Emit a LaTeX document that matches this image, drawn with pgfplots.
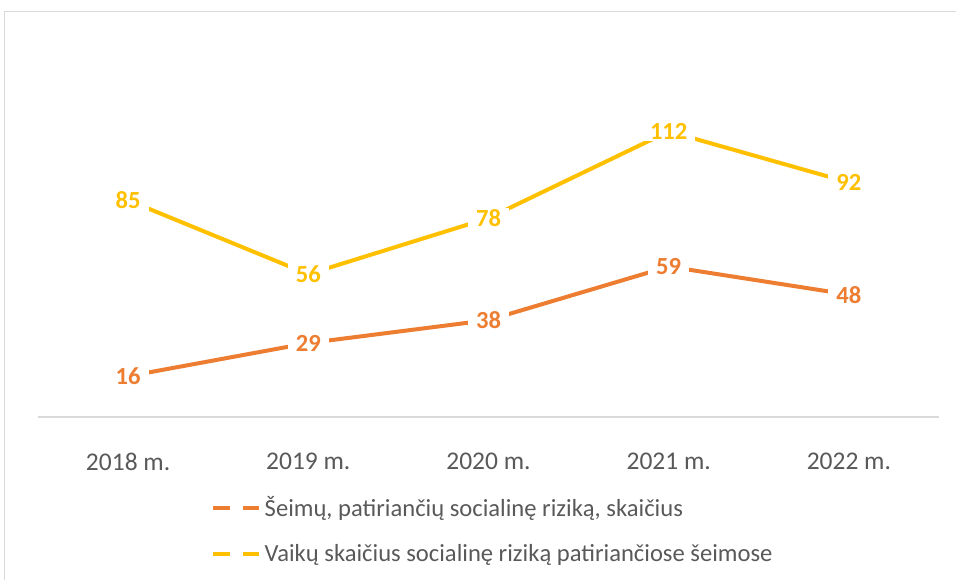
\documentclass[border=0pt]{standalone}
\usepackage{pgfplots}
\pgfplotsset{compat=1.18}
\usepackage{fontspec}
\setmainfont{Carlito}
\definecolor{serA}{HTML}{ED7D31}
\definecolor{serB}{HTML}{FFC000}
\definecolor{axgray}{HTML}{D9D9D9}
\definecolor{txtgray}{HTML}{595959}

\begin{document}
\begin{tikzpicture}
\useasboundingbox (0,0) rectangle (19.12cm,11.6cm);
% chart frame (only left and top edges are visible)
\draw[axgray, line width=0.03cm] (0.09cm,0cm) -- (0.09cm,11.37cm) -- (19.12cm,11.37cm);
\begin{axis}[
  at={(0.76cm,3.26cm)}, anchor=south west,
  scale only axis, width=18.02cm, height=6.12cm,
  xmin=-0.5, xmax=4.5, ymin=0, ymax=120,
  clip=false,
  axis x line*=bottom, axis y line=none,
  x axis line style={-, axgray, line width=0.03cm},
  xtick={0,1,2,3,4},
  xticklabels={2018 m., 2019 m., 2020 m., 2021 m., 2022 m.},
  xtick style={draw=none},
  xticklabel style={font=\fontsize{14.5}{17}\selectfont, text=txtgray, yshift=-0.6cm},
  /pgf/number format/assume math mode=true,
  nodes near coords,
  every node near coord/.append style={anchor=center, fill=white,
    inner xsep=0.16cm, inner ysep=0.04cm, font=\fontsize{14}{16}\selectfont\bfseries},
  legend style={at={(0.186,-0.235)}, anchor=north west, draw=none, fill=none,
    font=\fontsize{14}{17}\selectfont, text=txtgray, row sep=0.36cm,
    /tikz/every even column/.append style={column sep=0.05cm}},
  legend cell align=left,
  legend image code/.code={\draw[#1, line cap=butt, dash pattern=on 0.34cm off 0.26cm] (0cm,0cm) -- (0.92cm,0cm);},
]
\addplot[serA, line width=0.08cm, line join=round, line cap=round,
  every node near coord/.append style={text=serA}]
  coordinates {(0,16) (1,29) (2,38) (3,59) (4,48)};
\addlegendentry{Šeimų, patiriančių socialinę riziką, skaičius}
\addplot[serB, line width=0.08cm, line join=round, line cap=round,
  every node near coord/.append style={text=serB}]
  coordinates {(0,85) (1,56) (2,78) (3,112) (4,92)};
\addlegendentry{Vaikų skaičius socialinę riziką patiriančiose šeimose}
\end{axis}
\end{tikzpicture}
\end{document}
